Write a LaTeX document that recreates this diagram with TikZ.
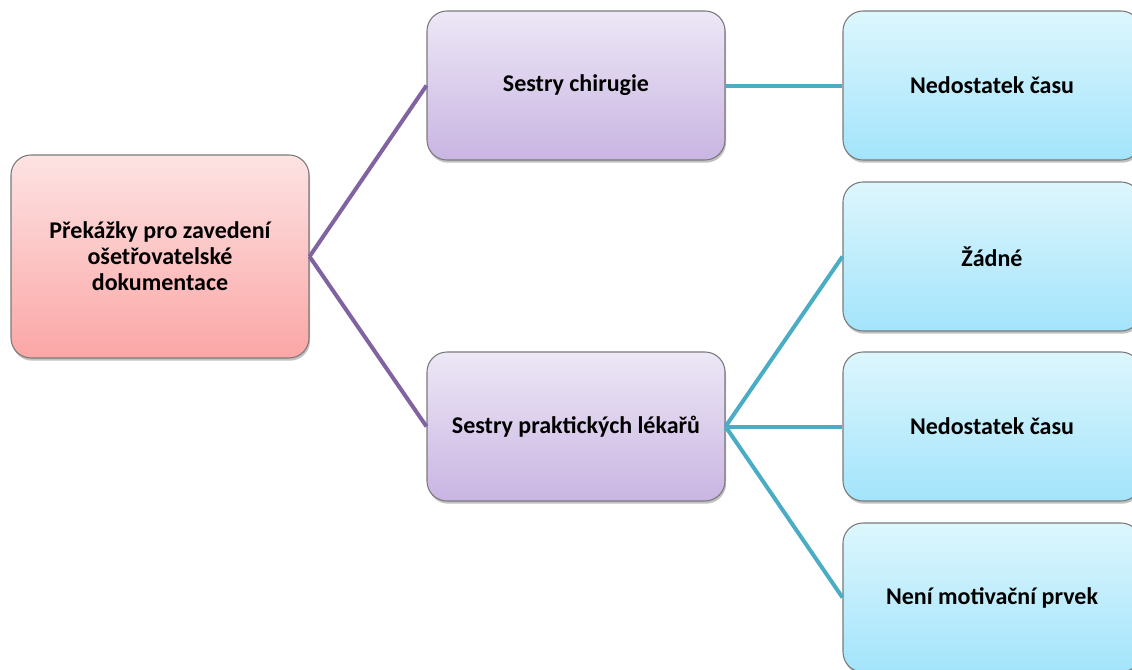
\documentclass[tikz,border=0pt]{standalone}
\usepackage{fontspec}
\setmainfont{Carlito}
\usetikzlibrary{shadows}
\definecolor{rootTop}{HTML}{FDE3E3}
\definecolor{rootBot}{HTML}{FBA6A6}
\definecolor{midTop}{HTML}{EDE7F6}
\definecolor{midBot}{HTML}{C9B5E2}
\definecolor{leafTop}{HTML}{DDF6FD}
\definecolor{leafBot}{HTML}{A3E4FB}
\definecolor{edgeGray}{HTML}{7A7A7A}
\definecolor{purpleLine}{HTML}{8064A2}
\definecolor{tealLine}{HTML}{4BACC6}
\tikzset{
  box/.style={draw=edgeGray, line width=0.8pt, rounded corners=15pt,
    align=center, font=\fontsize{18}{19.5}\selectfont\bfseries, text=black,
    drop shadow={shadow xshift=0.8pt, shadow yshift=-2pt, opacity=0.35, fill=black!70},
    inner sep=4pt},
  rootbox/.style={box, top color=rootTop, bottom color=rootBot,
    minimum width=223.5pt, minimum height=152.25pt},
  midbox/.style={box, top color=midTop, bottom color=midBot,
    minimum width=223.5pt, minimum height=111.75pt},
  leafbox/.style={box, top color=leafTop, bottom color=leafBot,
    minimum width=223.5pt, minimum height=111.75pt},
  plink/.style={draw=purpleLine, line width=3pt},
  tlink/.style={draw=tealLine, line width=3pt},
}
\begin{document}
\begin{tikzpicture}[x=0.75pt, y=-0.75pt]
  \useasboundingbox (0,0) rectangle (1132,669);
  \node[rootbox] (root) at (160,256.5) {Překážky pro zavedení\\ošetřovatelské\\dokumentace};
  \node[midbox] (chir) at (576,85.5) {Sestry chirugie};
  \node[midbox] (prak) at (576,426.5) {Sestry praktických lékařů};
  \node[leafbox] (l1) at (992,85.5) {Nedostatek času};
  \node[leafbox] (l2) at (992,256.5) {Žádné};
  \node[leafbox] (l3) at (992,426.5) {Nedostatek času};
  \node[leafbox] (l4) at (992,597.5) {Není motivační prvek};
  \draw[plink] (root.east) -- (chir.west);
  \draw[plink] (root.east) -- (prak.west);
  \draw[tlink] (chir.east) -- (l1.west);
  \draw[tlink] (prak.east) -- (l2.west);
  \draw[tlink] (prak.east) -- (l3.west);
  \draw[tlink] (prak.east) -- (l4.west);
\end{tikzpicture}
\end{document}
